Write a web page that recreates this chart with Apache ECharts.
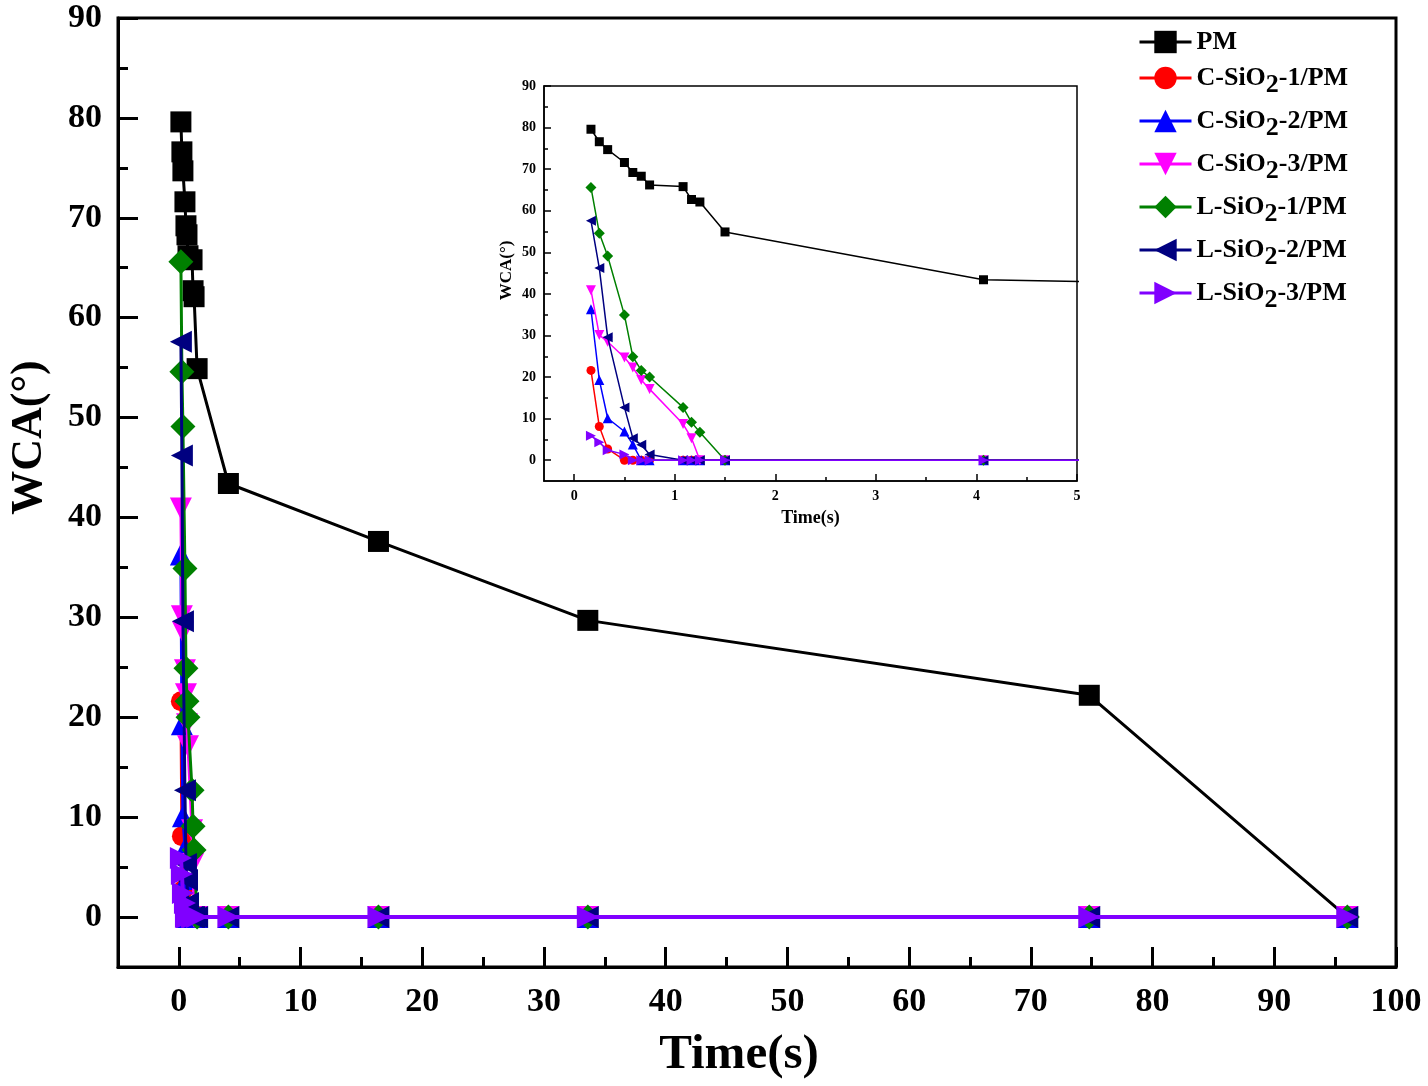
<!DOCTYPE html>
<html>
<head>
<meta charset="utf-8">
<script src="https://cdn.jsdelivr.net/npm/echarts@6/dist/echarts.min.js"></script>
<style>html,body{margin:0;padding:0;background:#fff}#c{width:1428px;height:1086px}</style>
</head>
<body>
<div id="c"></div>
<script>
// ---- data ----
const time = [0.167, 0.25, 0.333, 0.5, 0.583, 0.667, 0.75, 1.083, 1.167, 1.25, 1.5, 4.07, 16.4, 33.6, 74.8, 96];
const pm   = [79.6, 76.6, 74.7, 71.6, 69.2, 68.3, 66.2, 65.8, 62.7, 62.1, 54.9, 43.4, 37.6, 29.7, 22.2, 0];
const c1   = [21.6, 8.1, 2.7, 0, 0, 0, 0, 0, 0, 0, 0, 0, 0, 0, 0, 0];
const c2   = [36.3, 19.3, 10.1, 6.9, 3.8, 0, 0, 0, 0, 0, 0, 0, 0, 0, 0, 0];
const c3   = [40.9, 30.1, 28.5, 24.7, 22.3, 19.3, 17.1, 8.7, 5.3, 0, 0, 0, 0, 0, 0, 0];
const l1   = [65.6, 54.6, 49.1, 34.9, 24.9, 21.6, 20.0, 12.7, 9.1, 6.7, 0, 0, 0, 0, 0, 0];
const l2   = [57.6, 46.2, 29.6, 12.7, 5.3, 3.7, 1.4, 0, 0, 0, 0, 0, 0, 0, 0, 0];
const l3   = [5.9, 4.3, 2.4, 1.4, 0, 0, 0, 0, 0, 0, 0, 0, 0, 0, 0, 0];
const seriesNames = ['PM', 'C-SiO2-1/PM', 'C-SiO2-2/PM', 'C-SiO2-3/PM', 'L-SiO2-1/PM', 'L-SiO2-2/PM', 'L-SiO2-3/PM'];
const seriesValues = [pm, c1, c2, c3, l1, l2, l3];

const xTicks = [0, 10, 20, 30, 40, 50, 60, 70, 80, 90, 100];
const xMinor = [5, 15, 25, 35, 45, 55, 65, 75, 85, 95];
const yTicks = [0, 10, 20, 30, 40, 50, 60, 70, 80, 90];
const yMinor = [5, 15, 25, 35, 45, 55, 65, 75, 85];
const xTicksInset = [0, 1, 2, 3, 4, 5];
const xMinorInset = [0.5, 1.5, 2.5, 3.5, 4.5];

// ---- styles ----
const FONT = 'Liberation Serif';
const colors = ['#000000', '#FF0000', '#0000FF', '#FF00FF', '#008000', '#000080', '#8000FF'];
const symbols = ['rect', 'circle', 'triangle', 'path://M0,0 L10,0 L5,10 Z', 'diamond', 'path://M0,5 L10,0 L10,10 Z', 'path://M10,5 L0,0 L0,10 Z'];
const mainSizes = [21, 20, 22, 22, 25, 22, 22];
const insetSizes = [9, 9, 10, 10, 11, 10, 10];

function axis(o) {
  const base = {
    type: 'value', gridIndex: o.grid, min: o.min, max: o.max, position: o.pos,
    axisLine: { show: o.line !== false, onZero: false, lineStyle: { color: '#000', width: o.lw } },
    axisTick: { show: true, inside: true, length: o.tickLen, customValues: o.ticks, lineStyle: { color: '#000', width: o.lw } },
    axisLabel: o.labels ? { show: true, customValues: o.ticks, color: '#000', fontFamily: FONT, fontWeight: 'bold', fontSize: o.fs, margin: o.margin } : { show: false },
    splitLine: { show: false }
  };
  if (o.name) {
    base.name = o.name; base.nameLocation = 'middle'; base.nameGap = o.nameGap;
    base.nameTextStyle = { color: '#000', fontFamily: FONT, fontWeight: 'bold', fontSize: o.nfs, padding: o.npad };
  }
  return base;
}

const xAxis = [
  axis({ grid: 0, pos: 'bottom', min: -5, max: 100, lw: 3, tickLen: 20, ticks: xTicks, labels: true, fs: 34, margin: 18, name: 'Time(s)', nameGap: 64, nfs: 49, npad: [0, 36, 0, 0] }),
  axis({ grid: 0, pos: 'bottom', min: -5, max: 100, lw: 3, tickLen: 10, ticks: xMinor, labels: false, line: false }),
  axis({ grid: 1, pos: 'bottom', min: -0.3, max: 5, lw: 1.5, tickLen: 7, ticks: xTicksInset, labels: true, fs: 14, margin: 8, name: 'Time(s)', nameGap: 28, nfs: 18, npad: [0, 0, 0, 0] }),
  axis({ grid: 1, pos: 'bottom', min: -0.3, max: 5, lw: 1.5, tickLen: 4, ticks: xMinorInset, labels: false, line: false })
];
const yAxis = [
  axis({ grid: 0, pos: 'left', min: -5, max: 90, lw: 3, tickLen: 20, ticks: yTicks, labels: true, fs: 34, margin: 16, name: 'WCA(°)', nameGap: 66, nfs: 44, npad: [0, 0, 0, 110] }),
  axis({ grid: 0, pos: 'left', min: -5, max: 90, lw: 3, tickLen: 10, ticks: yMinor, labels: false, line: false }),
  axis({ grid: 1, pos: 'left', min: -5, max: 90, lw: 1.5, tickLen: 7, ticks: yTicks, labels: true, fs: 14, margin: 8, name: 'WCA(°)', nameGap: 29, nfs: 17, npad: [0, 0, 0, 26] }),
  axis({ grid: 1, pos: 'left', min: -5, max: 90, lw: 1.5, tickLen: 4, ticks: yMinor, labels: false, line: false })
];

const series = [];
seriesNames.forEach((n, i) => {
  const pts = time.map((t, k) => [t, seriesValues[i][k]]);
  series.push({
    name: n, type: 'line', xAxisIndex: 0, yAxisIndex: 0, data: pts,
    symbol: symbols[i], symbolSize: mainSizes[i], showAllSymbol: true,
    lineStyle: { color: colors[i], width: i === 6 ? 4 : 3 },
    itemStyle: { color: colors[i] }, animation: false, z: 2 + i
  });
});
seriesNames.forEach((n, i) => {
  const pts = time.map((t, k) => [t, seriesValues[i][k]]);
  series.push({
    name: n, type: 'line', xAxisIndex: 2, yAxisIndex: 2, data: pts,
    symbol: symbols[i], symbolSize: insetSizes[i], showAllSymbol: true,
    lineStyle: { color: colors[i], width: 1.5 },
    itemStyle: { color: colors[i] }, animation: false, z: 2 + i
  });
});

const chart = echarts.init(document.getElementById('c'), null, { renderer: 'canvas' });
chart.setOption({
  backgroundColor: '#fff',
  animation: false,
  grid: [
    { left: 117, right: 32, top: 18, bottom: 119, show: true, borderColor: '#000', borderWidth: 3, backgroundColor: 'transparent' },
    { left: 544, right: 351, top: 86, bottom: 605, show: true, borderColor: '#000', borderWidth: 1.5, backgroundColor: 'transparent' }
  ],
  legend: {
    orient: 'vertical', left: 1138, top: 29, padding: 0, itemWidth: 52, itemHeight: 28, itemGap: 10,
    lineStyle: { width: 3 },
    data: seriesNames,
    formatter: name => name.replace('SiO2', 'SiO{s|2}'),
    textStyle: {
      color: '#000', fontFamily: FONT, fontWeight: 'bold', fontSize: 26,
      rich: { s: { color: '#000', fontFamily: FONT, fontWeight: 'bold', fontSize: 26, padding: [14, 0, 0, 0] } }
    }
  },
  xAxis: xAxis,
  yAxis: yAxis,
  series: series
});
</script>
</body>
</html>
